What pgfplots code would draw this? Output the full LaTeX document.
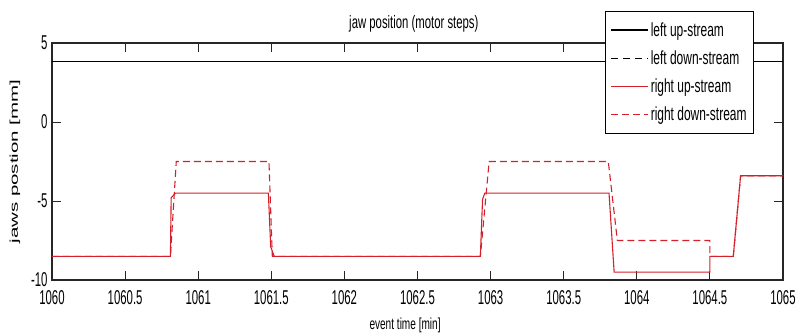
\documentclass[border=0pt]{standalone}
\usepackage{fontspec}
\usepackage{graphicx}
\usepackage{pgfplots}
\pgfplotsset{compat=1.18}
\setmainfont{Liberation Sans}[FakeStretch=0.63]
\newfontfamily\tickfamily{Liberation Sans}[FakeStretch=0.57]
\newfontfamily\plainfont{Liberation Sans}
\definecolor{mred}{RGB}{212,32,42}
\newcommand{\tf}{\tickfamily\fontsize{20bp}{23bp}\selectfont}
\newcommand{\lf}{\fontsize{19bp}{22bp}\selectfont}
\begin{document}
\begin{tikzpicture}
\path[use as bounding box] (-52bp,-54bp) rectangle (744bp,280bp);
\begin{axis}[
  at={(0,0)}, anchor=south west,
  scale only axis, width=731bp, height=237bp,
  xmin=1060, xmax=1065, ymin=-10, ymax=5,
  xtick={1060,1060.5,1061,1061.5,1062,1062.5,1063,1063.5,1064,1064.5,1065},
  xticklabels={1060,1060.5,1061,1061.5,1062,1062.5,1063,1063.5,1064,1064.5,1065},
  ytick={-10,-5,0,5},
  yticklabels={-10,-5,0,5},
  tick align=inside,
  major tick length=9bp,
  tick style={black!85, line width=0.9bp},
  axis line style={black!85, line width=1.1bp},
  ticklabel style={font=\tf},
  xticklabel style={inner ysep=0pt, yshift=-10.5bp},
  yticklabel style={inner ysep=0pt, xshift=-1bp},
  title={jaw position (motor steps)},
  title style={font=\fontsize{18bp}{21bp}\selectfont, at={(axis description cs:0.495,1.055)}, anchor=center},
  xlabel={event time [min]},
  xlabel style={font=\fontsize{16bp}{19bp}\selectfont, at={(axis description cs:0.483,-0.19)}, anchor=center},
  ylabel={\scalebox{1}[0.55]{jaws postion [mm]}},
  ylabel style={font=\plainfont\fontsize{20.5bp}{24bp}\selectfont, at={(axis description cs:-0.0506,0.5)}, anchor=center},
  legend style={at={(axis description cs:0.9603,1.135)}, anchor=north east,
    draw=black, line width=0.8bp, fill=white, font=\lf, cells={anchor=west},
    inner xsep=5bp, inner ysep=9bp, row sep=9bp},
  legend image code/.code={\draw[#1] (0bp,0bp) -- (37bp,0bp);},
]
\addplot[black, line width=1.1bp] coordinates {(1060,3.84) (1065,3.84)};
\addlegendentry{left up-stream}
\addplot[black, line width=1.1bp, dash pattern=on 7bp off 5bp] coordinates {(1060,3.84) (1065,3.84)};
\addlegendentry{left down-stream}
\addplot[mred, line width=1.1bp] coordinates {
(1060,-8.5) (1060.81,-8.5) (1060.815,-4.8) (1060.845,-4.5) (1061.48,-4.5) (1061.496,-7.9) (1061.52,-8.5)
(1062.93,-8.5) (1062.945,-4.9) (1062.96,-4.5) (1063.81,-4.5) (1063.845,-9.5) (1064.5,-9.5) (1064.5,-8.5)
(1064.66,-8.5) (1064.71,-3.4) (1065,-3.4)};
\addlegendentry{right up-stream}
\addplot[mred, line width=1.1bp, dash pattern=on 7bp off 4bp] coordinates {
(1060,-8.5) (1060.81,-8.5) (1060.85,-2.5) (1061.484,-2.5) (1061.507,-8.5)
(1062.93,-8.5) (1062.99,-2.5) (1063.805,-2.5) (1063.867,-7.5) (1064.5,-7.5) (1064.5,-8.5)
(1064.66,-8.5) (1064.71,-3.4) (1065,-3.4)};
\addlegendentry{right down-stream}
\end{axis}
\end{tikzpicture}
\end{document}
